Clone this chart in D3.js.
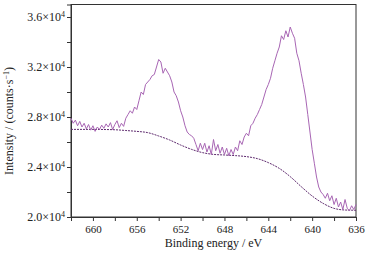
<!DOCTYPE html>
<html>
<head>
    <script src="https://d3js.org/d3.v7.min.js"></script>
    <title> XPS spectrum </title>
    <style>
        body { margin: 0; background: #fff; }
        text { font-family: "Liberation Serif", "Times New Roman", serif; fill: #222; }
    </style>
</head>
<body>
    <svg id="plot" height="254" width="369"></svg>
    <script>
        // binding energy grid: 662 -> 636 eV, 0.2 eV steps
        const energyStart = 662;
        const energyStep = 0.2;
        const intensity = [
            27900, 27500, 27750, 27300, 27650, 27200, 27500, 27050, 27400, 26950,
            27300, 26850, 27200, 27000, 27350, 27100, 27450, 27200, 27550, 27000,
            27400, 27700, 27150, 27500, 27250, 27900, 28200, 28500, 28300, 28800,
            28600, 29300, 30000, 29800, 30600, 30800, 31000, 31300, 31400, 32000,
            32600, 32400, 31500, 31900, 31600, 31300, 30800, 30000, 29700, 29200,
            28500, 28000, 27300, 26800, 26600, 26500, 26300, 25800, 25300, 25900,
            25400, 25900, 25200, 25700, 25000, 26200, 25300, 25800, 25100, 25600,
            25000, 25500, 24900, 25400, 25000, 25600, 25300, 26100, 25800, 26400,
            26700, 26500, 27300, 27500, 27900, 28200, 28600, 29000, 29600, 30200,
            30600, 31100, 31900, 32500, 33100, 33600, 34500, 34200, 34900, 34400,
            35200, 34700, 34300, 33100, 32500, 31500, 30600, 29600, 28200, 26800,
            25400, 24300, 23200, 22400, 22000, 21800, 21500, 21900, 21300, 21700,
            21000, 21500, 20800, 21200, 20600, 21400, 20700, 20500, 20900, 20600,
            21000
        ];
        // Shirley-type background, 1 eV steps
        const bgEnergy = [662, 661, 660, 659, 658, 657, 656, 655, 654, 653, 652, 651, 650, 649,
                          648, 647, 646, 645, 644, 643, 642, 641, 640, 639, 638, 637, 636];
        const bgIntensity = [27010, 27010, 27010, 27000, 26980, 26920, 26850, 26750, 26480, 26160,
                             25760, 25410, 25150, 25010, 24960, 24910, 24830, 24670, 24350, 23890,
                             23230, 22430, 21680, 21090, 20690, 20560, 20540];

        const xTicks = d3.range(662, 635, -2);
        const xLabels = [660, 656, 652, 648, 644, 640, 636];
        const yTicks = d3.range(20000, 36001, 2000);
        const yLabels = [20000, 24000, 28000, 32000, 36000];

        const svg = d3.select('svg#plot');
        const margin = {top: 4.5, right: 13, bottom: 37, left: 71};
        const width = +svg.attr('width');
        const height = +svg.attr('height');
        const chartWidth = width - margin.left - margin.right;
        const chartHeight = height - margin.top - margin.bottom;

        const chartArea = svg.append('g')
            .attr('transform', `translate(${margin.left},${margin.top})`);

        const xScale = d3.scaleLinear().domain([662, 636]).range([0, chartWidth]);
        const yScale = d3.scaleLinear().domain([20000, 37000]).range([chartHeight, 0]);

        const spectrum = intensity.map((v, i) => ({e: energyStart - i * energyStep, v: v}));
        const background = bgEnergy.map((e, i) => ({e: e, v: bgIntensity[i]}));

        // frame
        chartArea.append('rect')
            .attr('x', 0).attr('y', 0)
            .attr('width', chartWidth).attr('height', chartHeight)
            .attr('fill', 'none')
            .attr('stroke', '#333')
            .attr('stroke-width', 1);

        // x axis
        const xAxis = chartArea.append('g')
            .attr('transform', `translate(0,${chartHeight})`)
            .call(d3.axisBottom(xScale).tickValues(xTicks).tickSize(4)
                .tickFormat(d => xLabels.includes(d) ? d : ''));
        xAxis.select('.domain').attr('stroke', '#333');
        xAxis.selectAll('line').attr('stroke', '#333');
        xAxis.selectAll('text')
            .attr('font-size', '11px')
            .attr('font-family', '"Liberation Serif", serif')
            .attr('fill', '#222')
            .attr('dy', '0.85em');

        // y axis
        const yAxis = chartArea.append('g')
            .call(d3.axisLeft(yScale).tickValues(yTicks).tickSize(4).tickFormat(''));
        yAxis.select('.domain').attr('stroke', '#333');
        yAxis.selectAll('line').attr('stroke', '#333');

        yLabels.forEach(d => {
            const t = chartArea.append('text')
                .attr('x', -6)
                .attr('y', yScale(d) + 4)
                .attr('text-anchor', 'end')
                .attr('font-size', '12px');
            t.append('tspan').text((d / 10000).toFixed(1) + '\u00d710');
            t.append('tspan').attr('dy', -4.5).attr('font-size', '8px').text('4');
        });

        // background line
        chartArea.append('path')
            .datum(background)
            .attr('fill', 'none')
            .attr('stroke', '#5e2a6e')
            .attr('stroke-width', 1)
            .attr('stroke-dasharray', '2,1')
            .attr('d', d3.line().curve(d3.curveMonotoneX)
                .x(d => xScale(d.e)).y(d => yScale(d.v)));

        // spectrum
        chartArea.append('path')
            .datum(spectrum)
            .attr('fill', 'none')
            .attr('stroke', '#a866b4')
            .attr('stroke-width', 1)
            .attr('d', d3.line().x(d => xScale(d.e)).y(d => yScale(d.v)));

        // axis titles
        svg.append('text')
            .attr('x', margin.left + chartWidth / 2)
            .attr('y', 247)
            .attr('text-anchor', 'middle')
            .attr('font-size', '12px')
            .text('Binding energy / eV');

        const yTitle = svg.append('text')
            .attr('transform', `translate(13,121) rotate(-90)`)
            .attr('text-anchor', 'middle')
            .attr('font-size', '12px');
        yTitle.append('tspan').text('Intensity / (counts\u00b7s');
        yTitle.append('tspan').attr('dy', -4).attr('font-size', '8px').text('\u22121');
        yTitle.append('tspan').attr('dy', 4).text(')');
    </script>
</body>
</html>
